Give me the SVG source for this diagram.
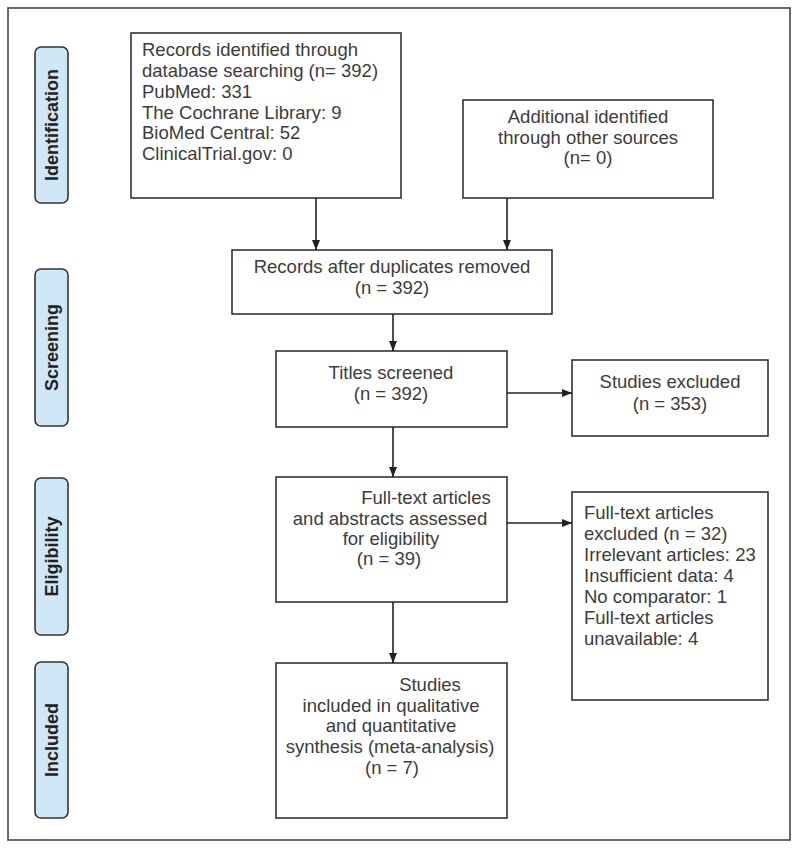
<svg xmlns="http://www.w3.org/2000/svg" width="799" height="849" viewBox="0 0 799 849">
<style>
.box{fill:#fff;stroke:#333;stroke-width:1.6}
.lbl{fill:#cfe7f7;stroke:#333;stroke-width:1.6}
.t{font-family:"Liberation Sans",Arial,sans-serif;font-size:18.5px;fill:#3c3c3c}
.c{text-anchor:middle}
.lt{font-family:"Liberation Sans",Arial,sans-serif;font-size:18px;font-weight:bold;fill:#222;text-anchor:middle;dominant-baseline:central}
.ln{stroke:#222;stroke-width:1.6;fill:none;marker-end:url(#ah)}
</style>
<defs>
<marker id="ah" viewBox="0 0 10 10" refX="10" refY="5" markerWidth="10" markerHeight="10" markerUnits="userSpaceOnUse" orient="auto">
<path d="M0,1 L10,5 L0,9 Z" fill="#222"/>
</marker>
</defs>
<rect x="0" y="0" width="799" height="849" fill="#fff"/>
<rect x="8" y="8" width="782" height="832" fill="none" stroke="#444" stroke-width="1.6"/>

<g id="label-identification">
<rect class="lbl" x="35" y="47" width="33" height="156" rx="6"/>
<text class="lt" transform="translate(52,125) rotate(-90)">Identification</text>
</g>
<g id="label-screening">
<rect class="lbl" x="35" y="269" width="33" height="157" rx="6"/>
<text class="lt" transform="translate(52,347.5) rotate(-90)">Screening</text>
</g>
<g id="label-eligibility">
<rect class="lbl" x="35" y="478" width="33" height="157" rx="6"/>
<text class="lt" transform="translate(52,556.5) rotate(-90)">Eligibility</text>
</g>
<g id="label-included">
<rect class="lbl" x="35" y="662" width="33" height="156" rx="6"/>
<text class="lt" transform="translate(52,740) rotate(-90)">Included</text>
</g>

<g id="records-identified">
<rect class="box" x="131" y="33" width="270" height="165"/>
<text class="t" x="142" y="56">Records identified through</text>
<text class="t" x="142" y="77">database searching (n= 392)</text>
<text class="t" x="142" y="97.5">PubMed: 331</text>
<text class="t" x="142" y="118.5">The Cochrane Library: 9</text>
<text class="t" x="142" y="139">BioMed Central: 52</text>
<text class="t" x="142" y="160">ClinicalTrial.gov: 0</text>
</g>

<g id="additional">
<rect class="box" x="463" y="100" width="250" height="98"/>
<text class="t c" x="588" y="123">Additional identified</text>
<text class="t c" x="588" y="143.5">through other sources</text>
<text class="t c" x="588" y="164">(n= 0)</text>
</g>

<g id="duplicates-removed">
<rect class="box" x="232" y="250" width="320" height="64"/>
<text class="t c" x="392" y="273">Records after duplicates removed</text>
<text class="t c" x="392" y="294">(n = 392)</text>
</g>

<g id="titles-screened">
<rect class="box" x="276" y="351" width="231" height="76"/>
<text class="t c" x="391" y="379">Titles screened</text>
<text class="t c" x="391" y="400">(n = 392)</text>
</g>

<g id="studies-excluded">
<rect class="box" x="572" y="360" width="196" height="76"/>
<text class="t c" x="670" y="388">Studies excluded</text>
<text class="t c" x="670" y="410">(n = 353)</text>
</g>

<g id="full-text-assessed">
<rect class="box" x="276" y="477" width="231" height="125"/>
<text class="t c" x="426" y="504">Full-text articles</text>
<text class="t c" x="390" y="525">and abstracts assessed</text>
<text class="t c" x="391" y="545">for eligibility</text>
<text class="t c" x="389" y="565">(n = 39)</text>
</g>

<g id="full-text-excluded">
<rect class="box" x="572" y="492" width="196" height="208"/>
<text class="t" x="584" y="519">Full-text articles</text>
<text class="t" x="584" y="540">excluded (n = 32)</text>
<text class="t" x="584" y="561">Irrelevant articles: 23</text>
<text class="t" x="584" y="582">Insufficient data: 4</text>
<text class="t" x="584" y="603">No comparator: 1</text>
<text class="t" x="584" y="624">Full-text articles</text>
<text class="t" x="584" y="645">unavailable: 4</text>
</g>

<g id="studies-included">
<rect class="box" x="276" y="663" width="231" height="155"/>
<text class="t c" x="430" y="691">Studies</text>
<text class="t c" x="391" y="712">included in qualitative</text>
<text class="t c" x="391" y="732">and quantitative</text>
<text class="t c" x="390" y="753">synthesis (meta-analysis)</text>
<text class="t c" x="392" y="774">(n = 7)</text>
</g>

<g id="connectors">
<line class="ln" x1="316" y1="198" x2="316" y2="250"/>
<line class="ln" x1="507" y1="198" x2="507" y2="250"/>
<line class="ln" x1="393" y1="314" x2="393" y2="351"/>
<line class="ln" x1="507" y1="393" x2="572" y2="393"/>
<line class="ln" x1="393" y1="427" x2="393" y2="477"/>
<line class="ln" x1="507" y1="523" x2="572" y2="523"/>
<line class="ln" x1="393" y1="602" x2="393" y2="663"/>
</g>
</svg>
